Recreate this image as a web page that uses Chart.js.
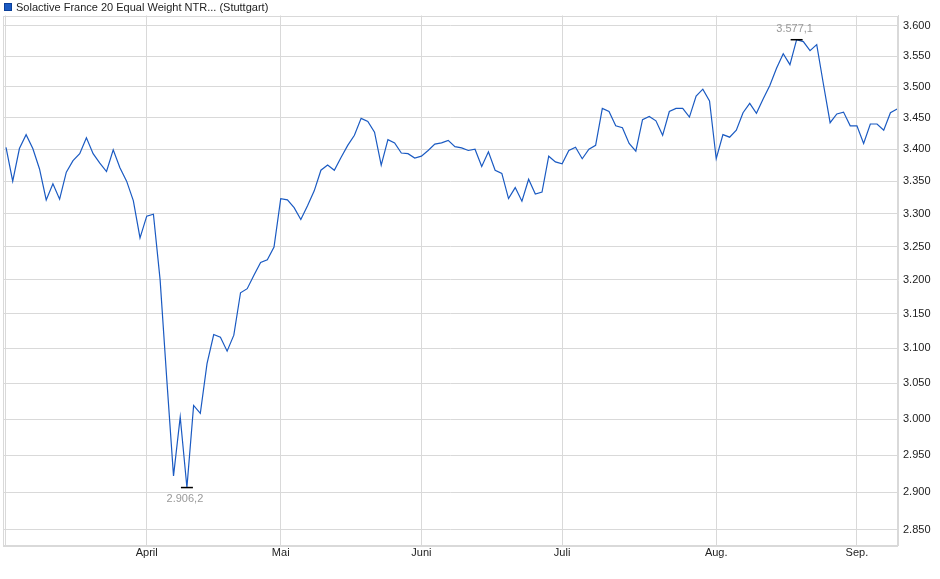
<!DOCTYPE html>
<html>
<head>
<meta charset="utf-8">
<script src="https://cdn.jsdelivr.net/npm/chart.js@4"></script>
<style>
html,body{margin:0;padding:0;background:#fff;}
#wrap{width:940px;height:579px;}
</style>
</head>
<body>
<div id="wrap"><canvas id="c" width="940" height="579"></canvas></div>
<script>
const seriesName = 'Solactive France 20 Equal Weight NTR... (Stuttgart)';
// daily closes (trading days, 3 Mar – 9 Sep)
const values = [
3403,3350,3401,3423,3401,3369,3321,3346,3322,3364,
3382,3393,3418,3393,3378,3365,3399,3371,3350,3320,
3263,3296,3299,3200,3055,2922,3003,2906.2,3019,3008,
3078,3120,3116,3096,3119,3181,3187,3207,3226,3230,
3249,3323,3321,3309,3291,3312,3335,3367,3375,3367,
3387,3406,3422,3449,3444,3427,3375,3415,3410,3394,
3393,3386,3389,3398,3408,3410,3414,3404,3402,3398,
3400,3373,3396,3367,3362,3323,3340,3319,3353,3330,
3333,3389,3380,3377,3398,3403,3385,3400,3406,3465,
3460,3437,3434,3409,3397,3447,3452,3445,3422,3460,
3465,3465,3451,3485,3496,3477,3385,3423,3419,3430,
3458,3473,3457,3480,3502,3530,3554,3536,3577.1,3574,
3559,3569,3504,3442,3456,3459,3437,3437,3409,3440,
3440,3430,3458,3464
];
const monthTickIndex = [21, 41, 62, 83, 106, 127];
const monthLabels = ['April', 'Mai', 'Juni', 'Juli', 'Aug.', 'Sep.'];
const yTickValues = [2850,2900,2950,3000,3050,3100,3150,3200,3250,3300,3350,3400,3450,3500,3550,3600];

const LINE = '#1a5ac2';
const GRID = '#d9d9d9';
const FONT = '"Liberation Sans", Arial, sans-serif';

function deNum(v, dec) {
  const s = v.toFixed(dec);
  const parts = s.split('.');
  const intp = parts[0].replace(/\B(?=(\d{3})+(?!\d))/g, '.');
  return parts.length > 1 ? intp + ',' + parts[1] : intp;
}

const points = values.map((v, i) => ({ x: i, y: v }));

const decor = {
  id: 'decor',
  beforeDraw(chart) {
    const ctx = chart.ctx;
    ctx.save();
    ctx.fillStyle = '#fff';
    ctx.fillRect(0, 0, chart.width, chart.height);
    ctx.restore();
  },
  afterDraw(chart) {
    const ctx = chart.ctx;
    const a = chart.chartArea;
    const xs = chart.scales.x, ys = chart.scales.y;
    ctx.save();
    // frame
    ctx.strokeStyle = GRID;
    ctx.lineWidth = 1;
    ctx.strokeRect(Math.round(a.left) + 0.5, Math.round(a.top) + 0.5,
      Math.round(a.right - a.left) - 1, Math.round(a.bottom - a.top));
    // legend
    ctx.fillStyle = LINE;
    ctx.fillRect(4, 3, 8, 8);
    ctx.strokeStyle = '#0b3f99';
    ctx.strokeRect(4.5, 3.5, 7, 7);
    ctx.fillStyle = '#222';
    ctx.font = '11px ' + FONT;
    ctx.textBaseline = 'middle';
    ctx.textAlign = 'left';
    ctx.fillText(seriesName, 16, 7.5);
    // min / max markers
    let iMin = 0, iMax = 0;
    values.forEach((v, i) => { if (v < values[iMin]) iMin = i; if (v > values[iMax]) iMax = i; });
    ctx.strokeStyle = '#000';
    ctx.lineWidth = 1.5;
    ctx.fillStyle = '#999';
    ctx.textAlign = 'center';
    [[iMin, 1], [iMax, -1]].forEach(([i, dir]) => {
      const px = xs.getPixelForValue(i), py = ys.getPixelForValue(values[i]);
      ctx.beginPath();
      ctx.moveTo(px - 6, py);
      ctx.lineTo(px + 6, py);
      ctx.stroke();
      ctx.fillText(deNum(values[i], 1), px - 2, py + dir * 11);
    });
    ctx.restore();
  }
};

new Chart(document.getElementById('c'), {
  type: 'line',
  data: {
    datasets: [{
      label: seriesName,
      data: points,
      borderColor: LINE,
      backgroundColor: LINE,
      borderWidth: 1.2,
      pointRadius: 0,
      tension: 0,
      fill: false
    }]
  },
  options: {
    responsive: false,
    animation: false,
    devicePixelRatio: 1,
    layout: { padding: { left: 3, top: 15.5, right: 0, bottom: 0 } },
    plugins: { legend: { display: false }, tooltip: { enabled: false } },
    scales: {
      x: {
        type: 'linear',
        min: -0.45,
        max: 133.13,
        afterBuildTicks(s) {
          s.ticks = [{ value: -0.1 }].concat(monthTickIndex.map(v => ({ value: v })));
        },
        afterFit(s) { s.height = 34; },
        ticks: {
          autoSkip: false,
          maxRotation: 0,
          padding: 1,
          color: '#222',
          font: { family: FONT, size: 11 },
          callback(value) {
            const k = monthTickIndex.indexOf(value);
            return k >= 0 ? monthLabels[k] : '';
          }
        },
        grid: { color: GRID, drawTicks: false },
        border: { color: GRID }
      },
      y: {
        type: 'logarithmic',
        position: 'right',
        min: 2829.8,
        max: 3617.5,
        afterBuildTicks(s) { s.ticks = yTickValues.map(v => ({ value: v })); },
        afterFit(s) { s.width = 42; },
        ticks: {
          autoSkip: false,
          padding: 5,
          color: '#222',
          font: { family: FONT, size: 11 },
          callback(value) { return deNum(value, 0); }
        },
        grid: { color: GRID, drawTicks: false },
        border: { color: GRID }
      }
    }
  },
  plugins: [decor]
});
</script>
</body>
</html>
